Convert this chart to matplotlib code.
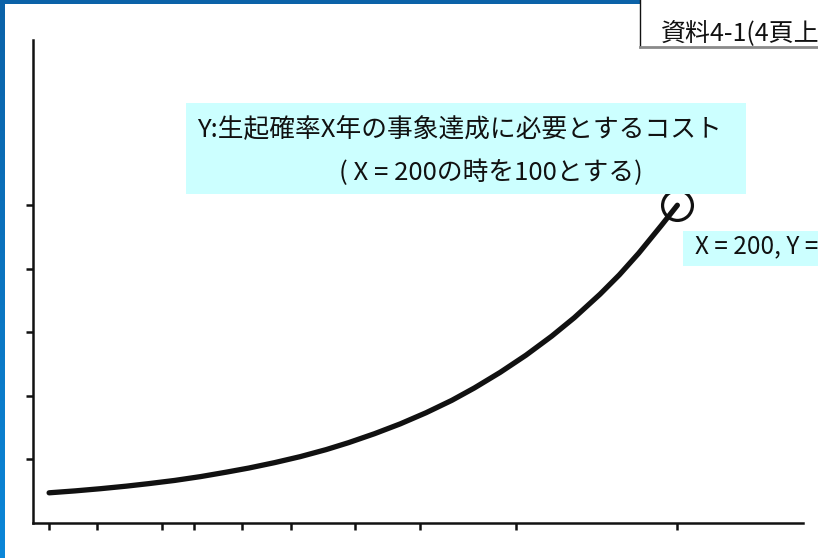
import matplotlib
matplotlib.use("Agg")
import matplotlib.pyplot as plt
from matplotlib.patches import Rectangle
from matplotlib.lines import Line2D
import numpy as np

plt.rcParams["font.family"] = ["Noto Sans CJK JP", "DejaVu Sans"]

# return period X (years) vs required cost Y (X=200 -> 100)
years = [5, 13, 21, 29, 36, 44, 52, 60, 67, 75, 83, 91, 98, 106,
         114, 122, 130, 137, 145, 153, 161, 168, 176, 182, 188, 195, 200]
cost = [9.5, 10.1, 10.8, 11.6, 12.4, 13.4, 14.6, 16.0, 17.3, 19.0, 20.9, 23.1, 25.3, 28.1,
        31.2, 34.7, 38.6, 42.5, 47.4, 52.8, 58.8, 64.6, 72.0, 78.1, 84.9, 93.6, 100]
x_ticks = [5, 20, 40, 50, 65, 80, 100, 120, 150, 200]
y_ticks = [20, 40, 60, 80, 100]
mark_x, mark_y = 200, 100

title_lines = ["Y:生起確率X年の事象達成に必要とするコスト", "( X = 200の時を100とする)"]
point_label = "X = 200, Y = 100"
doc_label = "資料4-1(4頁上)"

INK, CYAN = "#111111", "#ccffff"
W, H = 818, 558


def fx(px):
    return px / W


def fy(py):
    return 1 - py / H


fig = plt.figure(figsize=(W / 100, H / 100), dpi=100)
fig.patch.set_facecolor("white")

# --- the chart itself ---
ax = fig.add_axes([fx(33), fy(523), fx(803) - fx(33), fy(40) - fy(523)])
ax.set_facecolor("none")
ax.plot(years, cost, color=INK, lw=3.8, solid_capstyle="round", solid_joinstyle="round")
ax.plot([mark_x], [mark_y], "o", ms=21.5, mfc="none", mec=INK, mew=2.3)
ax.set_xlim(0, 239); ax.set_ylim(0, 152)
ax.set_xticks(x_ticks); ax.set_yticks(y_ticks)
ax.set_xticklabels([]); ax.set_yticklabels([])
ax.tick_params(length=5, width=1.8, color=INK, direction="out")
ax.spines[["top", "right"]].set_visible(False)
for s in ["left", "bottom"]:
    ax.spines[s].set_linewidth(1.8); ax.spines[s].set_color(INK)

# --- blue frame (left strip has a slight gradient) ---
lax = fig.add_axes([0, 0, fx(5), 1]); lax.axis("off")
lax.imshow(np.linspace(0, 1, 64).reshape(-1, 1), aspect="auto",
           cmap=matplotlib.colors.LinearSegmentedColormap.from_list("b", ["#0b62a8", "#0a86d8"]))
fig.add_artist(Rectangle((0, fy(4)), 1, 4 / H, transform=fig.transFigure, fc="#0b62a8", ec="none"))

# --- annotation boxes ---
fig.add_artist(Rectangle((fx(186), fy(194)), fx(746) - fx(186), 91 / H,
                         transform=fig.transFigure, fc=CYAN, ec="none"))
fig.text(fx(197), fy(129), title_lines[0], va="center", ha="left", fontsize=18.5, color=INK)
fig.text(fx(339), fy(173), title_lines[1], va="center", ha="left", fontsize=18.5, color=INK)

fig.add_artist(Rectangle((fx(683), fy(266)), fx(840) - fx(683), 35 / H,
                         transform=fig.transFigure, fc=CYAN, ec="none"))
fig.text(fx(695), fy(246), point_label, va="center", ha="left", fontsize=17.5, color=INK)

fig.add_artist(Rectangle((fx(640), fy(46)), fx(818) - fx(640), 46 / H,
                         transform=fig.transFigure, fc="white", ec="none"))
fig.add_artist(Line2D([fx(640), fx(640)], [fy(0), fy(47)], transform=fig.transFigure, color=INK, lw=1))
fig.add_artist(Line2D([fx(640), 1], [fy(47), fy(47)], transform=fig.transFigure, color="#8a8a8a", lw=2))
fig.text(fx(661), fy(33), doc_label, va="center", ha="left", fontsize=18, color=INK)

fig.savefig("out.png", dpi=100)
